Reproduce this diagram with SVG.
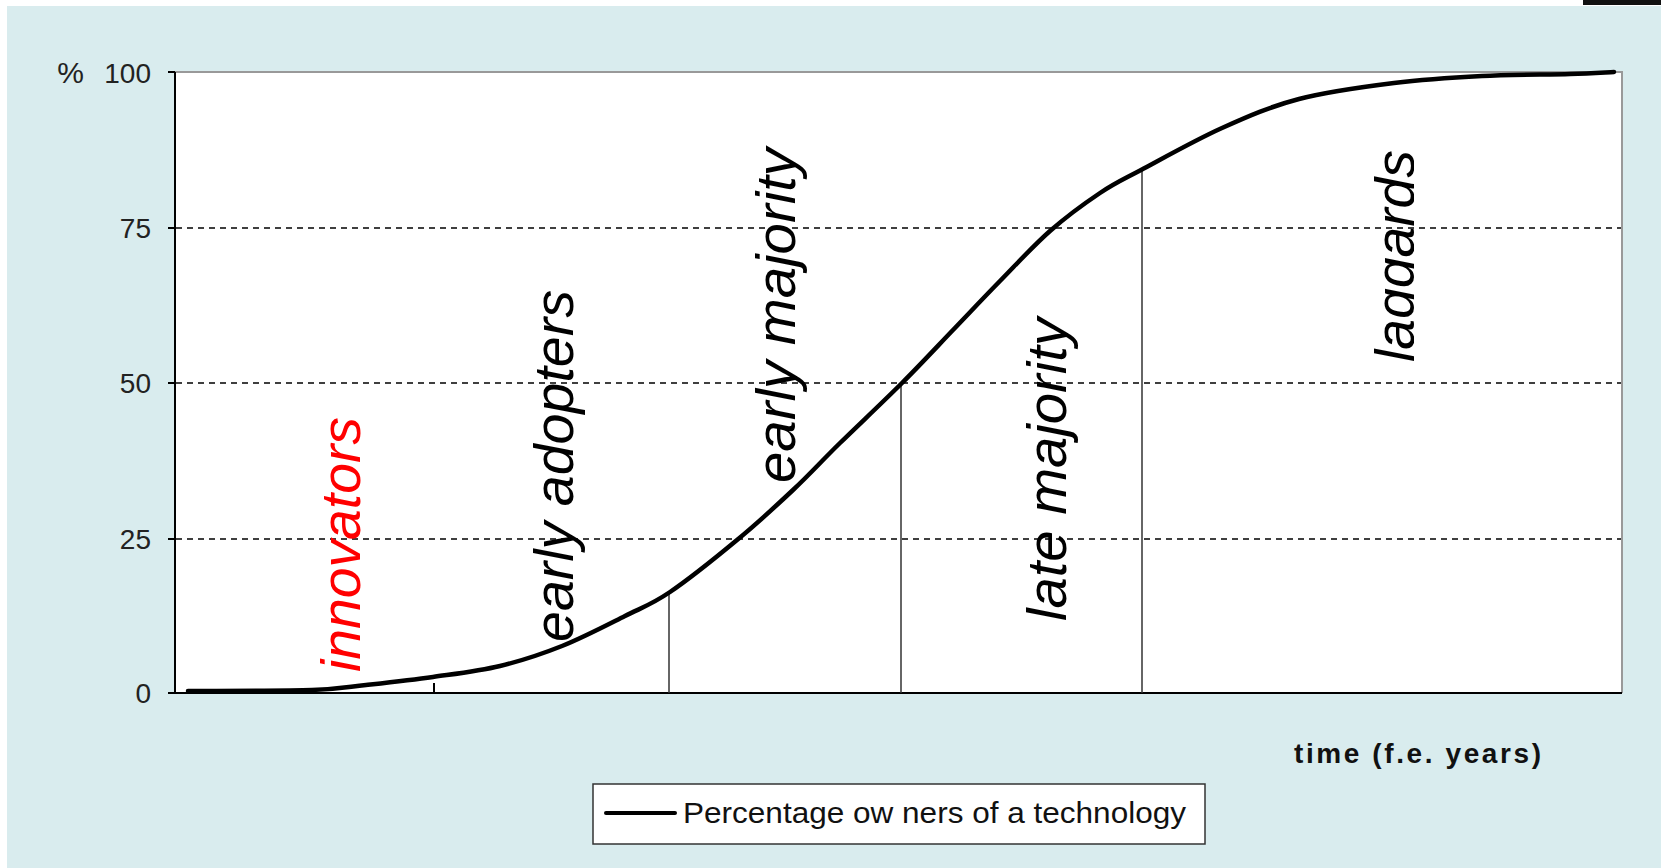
<svg xmlns="http://www.w3.org/2000/svg" width="1661" height="868" viewBox="0 0 1661 868">
  <style>
    .tick { font-family: "Liberation Sans", Arial, sans-serif; font-size: 28px; fill: #222; text-anchor: end; }
    .lab { font-family: "Liberation Sans", Arial, sans-serif; font-size: 55px; font-style: italic; fill: #000; }
    .grid { stroke: #000; stroke-width: 1.5; stroke-dasharray: 6 5; fill: none; }
    .vline { stroke: #333; stroke-width: 1.5; fill: none; }
    .axis { stroke: #000; stroke-width: 2; fill: none; }
    .border { stroke: #999; stroke-width: 2; fill: none; }
  </style>
  <defs>
    <clipPath id="clipLag">
      <rect x="1300" y="100" width="114" height="300"/>
    </clipPath>
  </defs>
  <rect x="0" y="0" width="1661" height="868" fill="#ffffff"/>
  <rect x="7" y="6" width="1654" height="862" fill="#d9ecee"/>
  <rect x="1583" y="0" width="78" height="5" fill="#111"/>

  <g id="plot-area">
    <rect x="175" y="72" width="1447" height="621" fill="#ffffff"/>
    <path class="border" d="M175 72 H1622 V693"/>
    <line class="grid" x1="176" y1="228" x2="1621" y2="228"/>
    <line class="grid" x1="176" y1="383" x2="1621" y2="383"/>
    <line class="grid" x1="176" y1="539" x2="1621" y2="539"/>
    <path class="axis" d="M175 72 V693 H1622"/>
    <path class="axis" d="M168 72 H175 M168 228 H175 M168 383 H175 M168 539 H175 M168 693 H175 M434 683 V693"/>
  </g>

  <g id="y-axis-labels">
    <text x="84" y="83" class="tick" style="font-size:30px">%</text>
    <text x="151" y="83" class="tick">100</text>
    <text x="151" y="238" class="tick">75</text>
    <text x="151" y="393" class="tick">50</text>
    <text x="151" y="549" class="tick">25</text>
    <text x="151" y="703" class="tick">0</text>
  </g>

  <g id="connectors">
    <line class="vline" x1="669" y1="593" x2="669" y2="693"/>
    <line class="vline" x1="901" y1="383" x2="901" y2="693"/>
    <line class="vline" x1="1142" y1="169" x2="1142" y2="693"/>
  </g>

  <g id="curve">
    <path fill="none" stroke="#000" stroke-width="4.5" stroke-linejoin="round" stroke-linecap="round"
      d="M188,691 C208.7,690.8 282.3,691 312,690 C341.7,689 345.8,687.2 366,685 C386.2,682.8 410.7,680.2 433,677 C455.3,673.8 478.5,671.2 500,666 C521.5,660.8 541.2,654.3 562,646 C582.8,637.7 607,625 625,616 C643,607 651.3,604.7 670,592 C688.7,579.3 716.5,557 737,540 C757.5,523 775.8,506.2 793,490 C810.2,473.8 821.8,460.8 840,443 C858.2,425.2 883.2,401.8 902,383 C920.8,364.2 936.7,347 953,330 C969.3,313 983.8,297.5 1000,281 C1016.2,264.5 1033.3,245.7 1050,231 C1066.7,216.3 1084.8,203.2 1100,193 C1115.2,182.8 1120.7,180.8 1141,170 C1161.3,159.2 1195.7,139.8 1222,128 C1248.3,116.2 1270.3,106.5 1299,99 C1327.7,91.5 1363.5,86.8 1394,83 C1424.5,79.2 1452.7,77.5 1482,76 C1511.3,74.5 1548,74.7 1570,74 C1592,73.3 1606.7,72.3 1614,72"/>
  </g>

  <g id="label-innovators">
    <text class="lab" transform="translate(360,672) rotate(-90)" textLength="255" lengthAdjust="spacingAndGlyphs" style="fill:#ff0000">innovators</text>
  </g>
  <g id="label-early-adopters">
    <text class="lab" transform="translate(573,642) rotate(-90)" textLength="352" lengthAdjust="spacingAndGlyphs">early adopters</text>
  </g>
  <g id="label-early-majority">
    <text class="lab" transform="translate(795,483) rotate(-90)" textLength="335" lengthAdjust="spacingAndGlyphs">early majority</text>
  </g>
  <g id="label-late-majority">
    <text class="lab" transform="translate(1066,621) rotate(-90)" textLength="303" lengthAdjust="spacingAndGlyphs">late majority</text>
  </g>
  <g id="label-laggards" clip-path="url(#clipLag)">
    <text class="lab" transform="translate(1414,362) rotate(-90)" textLength="212" lengthAdjust="spacingAndGlyphs">laggards</text>
  </g>

  <g id="x-axis-title">
    <text x="1294" y="763" font-family="Liberation Sans, Arial, sans-serif" font-size="28" font-weight="bold" fill="#111" textLength="247" lengthAdjust="spacing">time (f.e. years)</text>
  </g>

  <g id="legend">
    <rect x="593" y="784" width="612" height="60" fill="#ffffff" stroke="#333" stroke-width="1.5"/>
    <line x1="606" y1="813" x2="675" y2="813" stroke="#000" stroke-width="4" stroke-linecap="round"/>
    <text x="683" y="823" font-family="Liberation Sans, Arial, sans-serif" font-size="29" fill="#111" textLength="503" lengthAdjust="spacingAndGlyphs">Percentage ow ners of a technology</text>
  </g>
</svg>
